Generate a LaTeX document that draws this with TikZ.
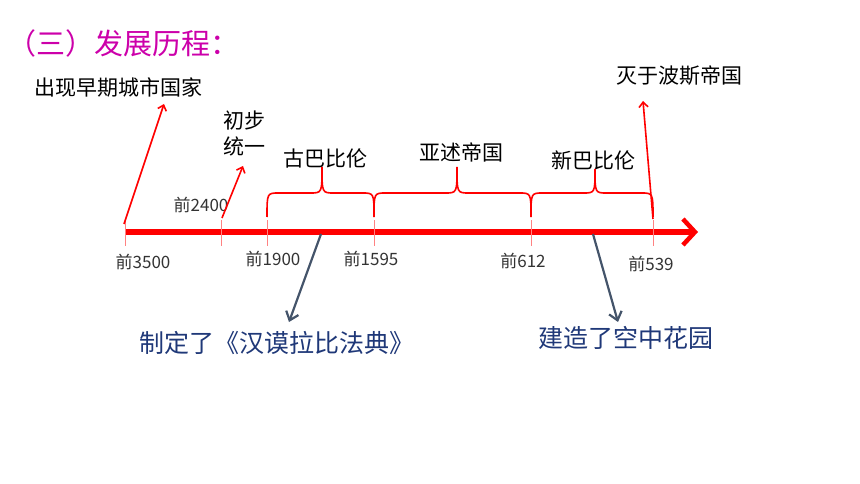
\documentclass[tikz,border=0pt]{standalone}
\usepackage{fontspec}
\setmainfont{Noto Sans CJK SC}
\usetikzlibrary{arrows.meta,positioning}
\definecolor{titlecol}{RGB}{204,0,170}
\definecolor{notecol}{RGB}{31,56,120}
\definecolor{pointcol}{RGB}{68,84,106}
\definecolor{tickcol}{RGB}{255,130,130}

\begin{document}
\begin{tikzpicture}[x=1pt,y=-1pt,
  big/.style={font=\fontsize{21}{26}\selectfont},
  year/.style={font=\fontsize{17}{19}\selectfont,text=black!80},
  note/.style={font=\fontsize{25}{29}\selectfont,text=notecol},
  axis/.style={draw=red,line width=5.5pt,-{Straight Barb[length=12pt,width=26pt,line width=4.5pt]}},
  rise/.style={draw=red,line width=1.6pt,-{Straight Barb[length=5pt,width=9pt]}},
  point/.style={draw=pointcol,line width=2.2pt,-{Straight Barb[length=8pt,width=13pt]}},
  brc/.style={draw=red,line width=1.6pt},
  tick/.style={draw=tickcol,line width=0.8pt}]
\useasboundingbox (0,0) rectangle (860,484);
\node[anchor=west,text=titlecol,font=\fontsize{29}{32}\selectfont] (title) at (4,43) {（三）发展历程：};
\node[big,anchor=west] (city) at (31,87) {出现早期城市国家};
\node[big,align=left] (unify) at (244,133) {初步\\统一};
\node[big] (old) at (325,158) {古巴比伦};
\node[big] (assyria) at (461,152) {亚述帝国};
\node[big] (new) at (593,160) {新巴比伦};
\node[big] (persia) at (679,76) {灭于波斯帝国};
\node[year] (y3500) at (143,262) {前3500};
\node[year] (y2400) at (201,205) {前2400};
\node[year] (y1900) at (273,259) {前1900};
\node[year] (y1595) at (371,259) {前1595};
\node[year] (y612) at (523,261) {前612};
\node[year] (y539) at (651,264) {前539};
\node[note] (code) at (277,343) {制定了《汉谟拉比法典》};
\node[note] (garden) at (626,338) {建造了空中花园};
\coordinate (start) at (125,232);
\coordinate (end) at (698,232);
\draw[axis] (start)--(end);
\foreach \x in {125,221,267,374,531,653}
  \draw[tick] (\x,220)--(\x,246);
\draw[brc] (267,217) .. controls (267,193) .. (279,193) -- (310,193) .. controls (322,193) .. (322,167)
  .. controls (322,193) .. (334,193) -- (362,193) .. controls (374,193) .. (374,217);
\draw[brc] (374,217) .. controls (374,193) .. (386,193) -- (445,193) .. controls (457,193) .. (457,167)
  .. controls (457,193) .. (469,193) -- (519,193) .. controls (531,193) .. (531,217);
\draw[brc] (531,217) .. controls (531,193) .. (543,193) -- (583,193) .. controls (595,193) .. (595,169)
  .. controls (595,193) .. (607,193) -- (641,193) .. controls (653,193) .. (653,217);
\coordinate (r1) at (124,224);
\coordinate (r1h) at (164,104);
\coordinate (r2) at (222,218);
\coordinate (r2h) at (243,166);
\coordinate (r3) at (653,219);
\coordinate (r3h) at (643,101);
\draw[rise] (r1)--(r1h);
\draw[rise] (r2)--(r2h);
\draw[rise] (r3)--(r3h);
\coordinate (g1) at (321,234);
\coordinate (g1h) at (289,322);
\coordinate (g2) at (593,234);
\coordinate (g2h) at (618,322);
\draw[point] (g1)--(g1h);
\draw[point] (g2)--(g2h);
\end{tikzpicture}
\end{document}
